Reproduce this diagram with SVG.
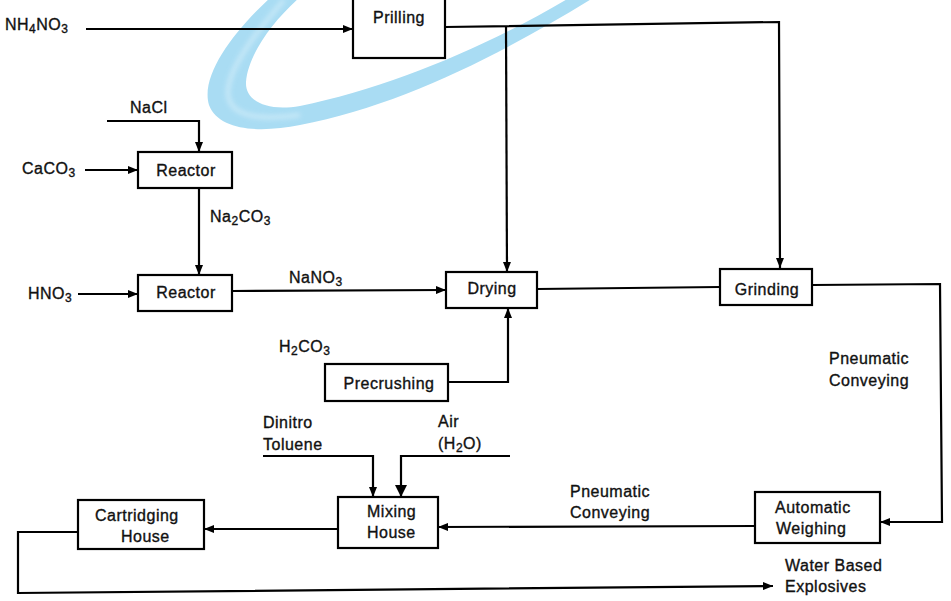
<svg xmlns="http://www.w3.org/2000/svg" width="951" height="601" viewBox="0 0 951 601">
<defs>
<marker id="arr" viewBox="0 0 10 8" refX="10" refY="4" markerWidth="10" markerHeight="8" markerUnits="userSpaceOnUse" orient="auto"><path d="M0,0 L10,4 L0,8 z" fill="#000"/></marker>
<marker id="arrL" viewBox="0 0 12 12" refX="12" refY="6" markerWidth="12" markerHeight="12" markerUnits="userSpaceOnUse" orient="auto"><path d="M0,0 L12,6 L0,12 z" fill="#000"/></marker>
<filter id="blur" x="-20%" y="-20%" width="140%" height="140%"><feGaussianBlur stdDeviation="2.5"/></filter>
</defs>
<style>
text{font-family:"Liberation Sans",Arial,sans-serif;font-size:16px;fill:#111;stroke:#111;stroke-width:0.35;letter-spacing:0.5px}
.m{text-anchor:middle}
.sub{font-size:12px}
.box{fill:#fff;stroke:#000;stroke-width:2.2}
.c{fill:none;stroke:#000;stroke-width:2.2;marker-end:url(#arr)}
.n{fill:none;stroke:#000;stroke-width:2.2}
</style>
<rect width="951" height="601" fill="#fff"/>
<g id="swoosh">
<path d="M270,-2 C235,30 200,75 209,105 C219,131 260,133 300,125 C400,106 500,55 593,-2 L569,-2 C490,45 390,88 300,106 C265,112 245,100 246,82 C248,55 272,22 299,-2 Z" fill="#a9dcf3"/>
<path d="M284,0 C258,30 226,70 228,95 C231,118 262,120 300,115" fill="none" stroke="#e6f5fc" stroke-width="4" opacity="0.55" filter="url(#blur)"/>
</g>
<g id="connectors">
<path class="c" d="M86,29 L353,29"/>
<path class="c" d="M107,121 L199,121 L199,152"/>
<path class="c" d="M85,170 L138,170"/>
<path class="c" d="M199,188 L199,275"/>
<path class="c" d="M78,294 L138,294"/>
<path class="c" d="M232,291 L446,290"/>
<path class="c" d="M445,27 L779,22 L780,268"/>
<path class="c" d="M506,26 L507,272"/>
<path class="n" d="M537,289 L720,287"/>
<path class="c" d="M448,382 L508,382 L508,308"/>
<path class="c" d="M812,285 L940,284 L942,522 L880,522"/>
<path class="c" d="M755,526 L438,527"/>
<path class="c" d="M263,456 L373,456 L373,497"/>
<path d="M510,456 L401,456 L401,497" fill="none" stroke="#000" stroke-width="2.2" marker-end="url(#arrL)"/>
<path class="c" d="M338,529 L204,529"/>
<path class="c" d="M78,532 L18,532 L18,593 L773,586"/>
</g>
<g id="prilling"><rect class="box" x="353" y="-5" width="92" height="63"/><text class="m" x="399" y="23">Prilling</text></g>
<g id="reactor1"><rect class="box" x="138" y="152" width="94" height="36"/><text class="m" x="186" y="176">Reactor</text></g>
<g id="reactor2"><rect class="box" x="138" y="275" width="94" height="36"/><text class="m" x="186" y="298">Reactor</text></g>
<g id="drying"><rect class="box" x="446" y="272" width="91" height="36"/><text class="m" x="492" y="294">Drying</text></g>
<g id="grinding"><rect class="box" x="720" y="269" width="92" height="36"/><text class="m" x="767" y="295">Grinding</text></g>
<g id="precrushing"><rect class="box" x="325" y="364" width="123" height="37"/><text class="m" x="389" y="389">Precrushing</text></g>
<g id="weighing"><rect class="box" x="755" y="492" width="125" height="51"/><text x="775" y="513">Automatic</text><text x="776" y="534">Weighing</text></g>
<g id="mixing"><rect class="box" x="338" y="497" width="100" height="51"/><text x="367" y="517">Mixing</text><text x="367" y="538">House</text></g>
<g id="cartridging"><rect class="box" x="78" y="500" width="126" height="49"/><text x="95" y="521">Cartridging</text><text x="121" y="542">House</text></g>
<g id="labels">
<text x="5" y="30">NH<tspan class="sub" dy="3">4</tspan><tspan dy="-3">NO</tspan><tspan class="sub" dy="3">3</tspan></text>
<text x="130" y="113">NaCl</text>
<text x="22" y="174">CaCO<tspan class="sub" dy="3">3</tspan></text>
<text x="210" y="222">Na<tspan class="sub" dy="3">2</tspan><tspan dy="-3">CO</tspan><tspan class="sub" dy="3">3</tspan></text>
<text x="28" y="299">HNO<tspan class="sub" dy="3">3</tspan></text>
<text x="289" y="283">NaNO<tspan class="sub" dy="3">3</tspan></text>
<text x="279" y="352">H<tspan class="sub" dy="3">2</tspan><tspan dy="-3">CO</tspan><tspan class="sub" dy="3">3</tspan></text>
<text x="263" y="428">Dinitro</text>
<text x="263" y="450">Toluene</text>
<text x="438" y="427">Air</text>
<text x="438" y="449">(H<tspan class="sub" dy="3">2</tspan><tspan dy="-3">O)</tspan></text>
<text x="829" y="364">Pneumatic</text>
<text x="829" y="386">Conveying</text>
<text x="570" y="497">Pneumatic</text>
<text x="570" y="518">Conveying</text>
<text x="785" y="571">Water Based</text>
<text x="785" y="592">Explosives</text>
</g>
</svg>
